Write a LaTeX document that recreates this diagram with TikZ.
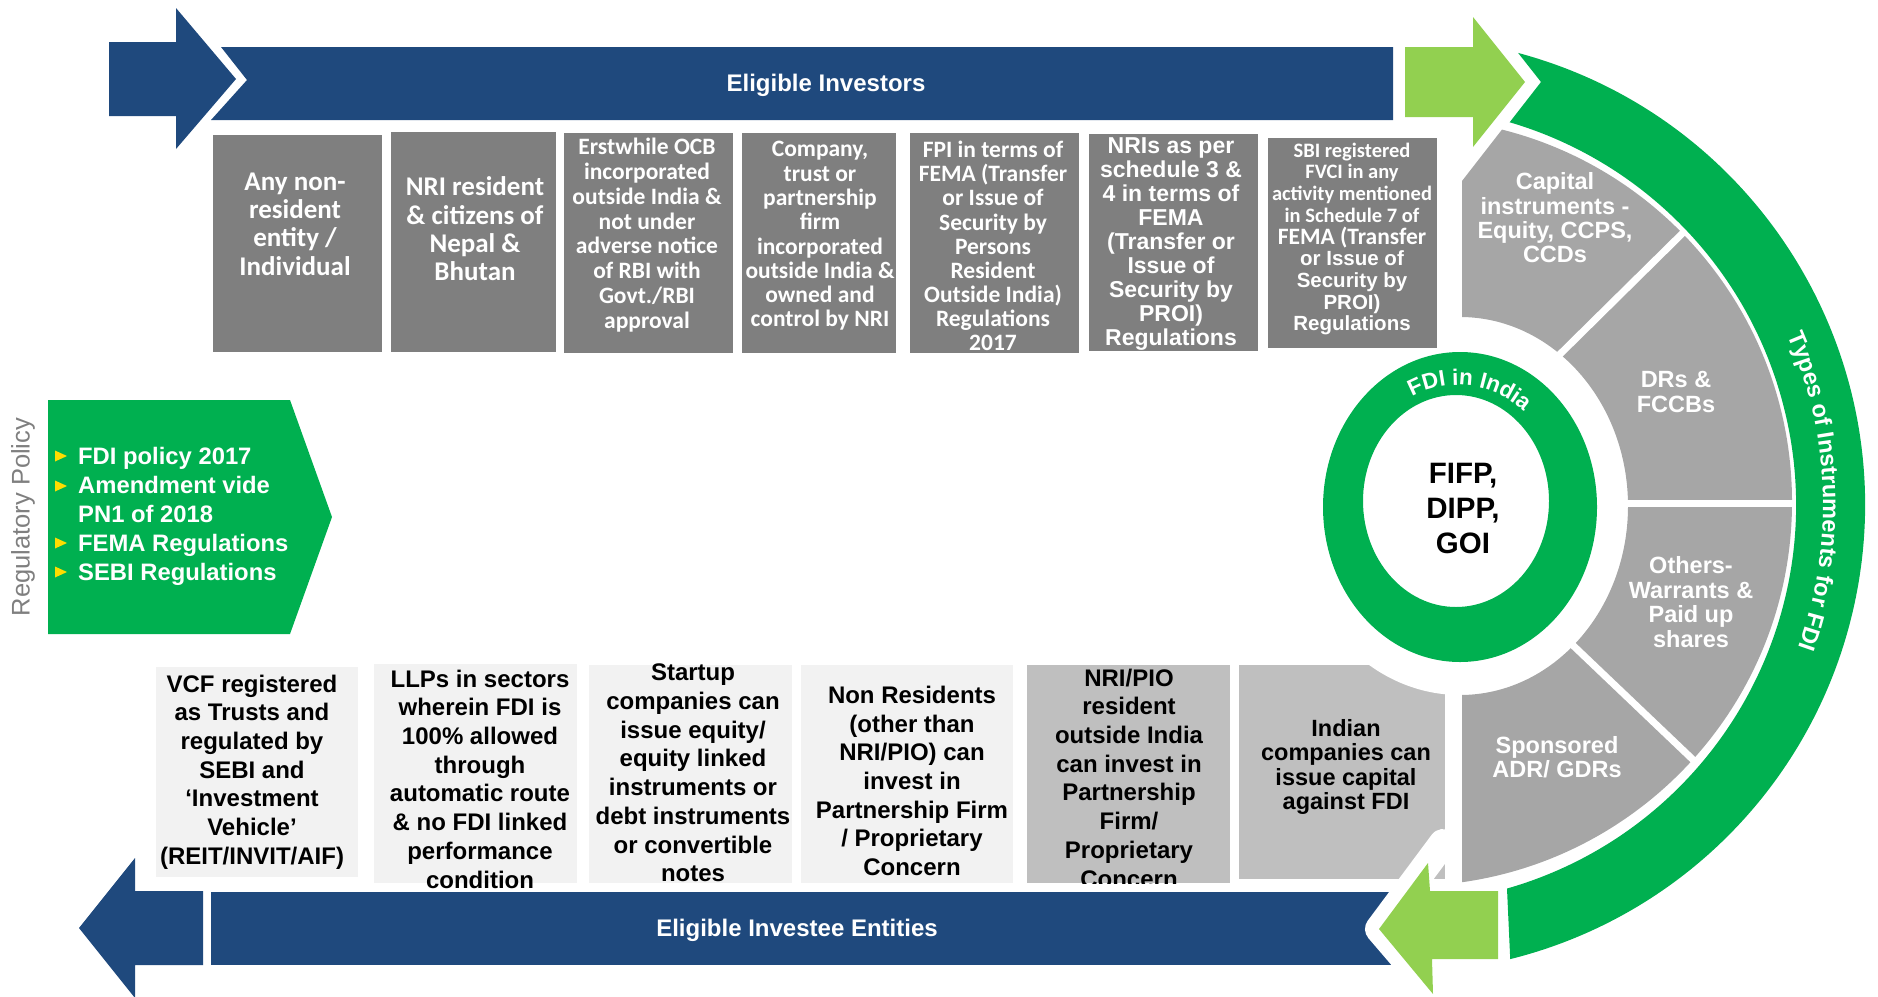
\documentclass[tikz,border=0pt]{standalone}
\usepackage{fontspec}
\usetikzlibrary{calc,decorations.text}
\newfontfamily\arial{Liberation Sans}
\newfontfamily\calib{Carlito}
\newcommand\setfs[2]{\fontsize{#1pt}{#2pt}\selectfont\lineskiplimit=-100pt\relax}

\definecolor{barblue}{RGB}{31,73,125}
\definecolor{dkgreen}{RGB}{0,176,80}
\definecolor{ltgreen}{RGB}{146,208,80}
\definecolor{boxdark}{RGB}{127,127,127}
\definecolor{secgray}{RGB}{166,166,166}
\definecolor{boxlight}{RGB}{242,242,242}
\definecolor{boxmid}{RGB}{191,191,191}
\definecolor{bulletyellow}{RGB}{255,221,0}
\definecolor{labelgray}{RGB}{127,127,127}

\tikzset{
  wtxt/.style={text=white, align=center, inner sep=0pt},
  ktxt/.style={text=black, align=center, inner sep=0pt},
  topbox/.style={fill=boxdark, draw=none, inner sep=0pt},
  botbox/.style={fill=boxlight, draw=none, inner sep=0pt},
  midbox/.style={fill=boxmid, draw=none, inner sep=0pt},
  calbig/.style={font={\calib\bfseries\setfs{27}{28.4}}},
  calmid/.style={font={\calib\bfseries\setfs{23.5}{24.5}}},
  arbot/.style={font={\arial\bfseries\setfs{24}{28.7}}},
  arsec/.style={font={\arial\bfseries\setfs{23.5}{24.3}}},
  divider/.style={white, line width=7pt},
}

\begin{document}
\begin{tikzpicture}[x=1pt,y=-1pt]
\useasboundingbox (0,0) rectangle (1878,996);

% key centres
\coordinate (C) at (1397,505);   % outer green band
\coordinate (G) at (1408,502);   % grey sectors outer rim
\coordinate (H) at (1460,506);   % white hole round the ring
\coordinate (R) at (1460,507);   % FDI ring outer
\coordinate (Ri) at (1456,501);  % FDI ring inner

% ---------------- top: eligible investors ----------------
\fill[barblue] (221,47) -- (1393,47) -- (1393,120) -- (211,120) -- (247,80) -- cycle;
\fill[barblue] (109,42) -- (176,42) -- (176,8) -- (236,79) -- (176,149) -- (176,116) -- (109,116) -- cycle;
\node[wtxt, font={\arial\bfseries\setfs{24}{24}}] (invlabel) at (826,85) {Eligible Investors};
\fill[ltgreen] (1405,47) -- (1473,47) -- (1473,17) -- (1525,82) -- (1473,147) -- (1473,117) -- (1405,117) -- cycle;

\node[topbox, minimum width=169pt, minimum height=217pt] (inv1) at (297.5,243.5) {};
\node[topbox, minimum width=165pt, minimum height=220pt] (inv2) at (473.5,242) {};
\node[topbox, minimum width=169pt, minimum height=220pt] (inv3) at (648.5,243) {};
\node[topbox, minimum width=154pt, minimum height=220pt] (inv4) at (819,243) {};
\node[topbox, minimum width=169pt, minimum height=220pt] (inv5) at (994.5,243) {};
\node[topbox, minimum width=169pt, minimum height=217pt] (inv6) at (1173.5,242.5) {};
\node[topbox, minimum width=169pt, minimum height=210pt] (inv7) at (1352.5,243) {};

\node[wtxt, calbig] (inv1t) at (295,224) {Any non-\\resident\\entity /\\Individual};
\node[wtxt, calbig] (inv2t) at (475,229) {NRI resident\\\& citizens of\\Nepal \&\\Bhutan};
\node[wtxt, calmid, font={\calib\bfseries\setfs{23.5}{24.8}}] (inv3t) at (647,235) {Erstwhile OCB\\incorporated\\outside India \&\\not under\\adverse notice\\of RBI  with\\Govt./RBI\\approval};
\node[wtxt, calmid, font={\calib\bfseries\setfs{23.5}{24.3}}] (inv4t) at (820,236) {Company,\\trust or\\partnership\\firm\\incorporated\\outside India \&\\owned and\\control by NRI};
\begin{scope}
  \clip (910,133) rectangle (1079,353);
  \node[wtxt, font={\calib\bfseries\setfs{23.5}{24.1}}] (inv5t) at (993,246) {FPI in terms of\\FEMA (Transfer\\or Issue of\\Security by\\Persons\\Resident\\Outside India)\\Regulations\\2017};
\end{scope}
\begin{scope}
  \clip (1089,134) rectangle (1258,351);
  \node[wtxt, font={\arial\bfseries\setfs{23}{24}}] (inv6t) at (1171,244) {NRIs as per\\schedule 3 \&\\4 in terms of\\FEMA\\(Transfer or\\Issue of\\Security by\\PROI)\\Regulations};
\end{scope}
\node[wtxt, font={\calib\bfseries\setfs{20.5}{21.7}}] (inv7t) at (1352,239) {SBI registered\\FVCI  in any\\activity mentioned\\in Schedule 7 of\\{\setfs{23.5}{21.7}FEMA (Transfer}\\{\arial\setfs{20.5}{21.7}or Issue of}\\{\arial\setfs{20.5}{21.7}Security by}\\{\arial\setfs{20.5}{21.7}PROI)}\\{\arial\setfs{20.5}{21.7}Regulations}};

% ---------------- instrument sectors ----------------
\begin{scope}
  \clip (1462,181) -- (1504,127) -- (1504,80) -- (1870,80) -- (1870,960) -- (1462,960) -- cycle;
  \fill[secgray, even odd rule] (G) circle[radius=384] (H) ellipse[x radius=168, y radius=189];
\end{scope}
\draw[divider] (1550,364) -- (1700,216);
\draw[divider] (1615,503) -- (1805,503);
\draw[divider] (1560,633) -- (1708,774);

\node[wtxt, arsec] (capital) at (1555,218) {Capital\\instruments -\\Equity, CCPS,\\CCDs};
\node[wtxt, arsec] (drs) at (1676,392) {DRs \&\\FCCBs};
\node[wtxt, arsec, font={\arial\bfseries\setfs{23.5}{24.6}}] (others) at (1691,602) {Others-\\Warrants \&\\Paid up\\shares};
\node[wtxt, arsec] (sponsored) at (1557,757) {Sponsored\\ADR/ GDRs};

% outer green band with its title
\fill[dkgreen] (1541,82) -- ($(C)+(-75:468)$) arc[start angle=-75, end angle=76, radius=468]
  -- ($(C)+(74:399)$) arc[start angle=74, end angle=-73.6, radius=399] -- cycle;
\path[decorate, decoration={text along path, text color=white, text align=center,
  text={|\arial\bfseries\setfs{23.5}{23.5}|Types of Instruments for FDI}}]
  ($(C)+(-42:426)$) arc[start angle=-42, end angle=38, radius=426];

% FDI ring
\fill[dkgreen, even odd rule] (R) ellipse[x radius=137, y radius=155] (Ri) ellipse[x radius=93, y radius=106];
\path[decorate, decoration={text along path, text color=white, text align=center,
  text={|\arial\bfseries\setfs{22.5}{22.5}|FDI in India}}]
  ($(1458,505)+(-174:106 and 120)$) arc[start angle=-174, end angle=6, x radius=106, y radius=120];
\node[ktxt, font={\arial\bfseries\setfs{29.5}{35}}] (govt) at (1463,508) {FIFP,\\DIPP,\\GOI};

% ---------------- bottom: eligible investee entities ----------------
\node[botbox, minimum width=202pt, minimum height=210pt] (ent1) at (257,772) {};
\node[botbox, minimum width=203pt, minimum height=219pt] (ent2) at (475.5,773.5) {};
\node[botbox, minimum width=203pt, minimum height=218pt] (ent3) at (690.5,774) {};
\node[botbox, minimum width=212pt, minimum height=218pt] (ent4) at (907,774) {};
\node[midbox, minimum width=203pt, minimum height=218pt] (ent5) at (1128.5,774) {};
\node[midbox, minimum width=206pt, minimum height=214pt] (ent6) at (1342,772) {};
\begin{scope}
  \clip (1239,665) rectangle (1445,879);
  \fill[white] (H) ellipse[x radius=168, y radius=189];
\end{scope}

\node[ktxt, arbot] (ent1t) at (252,772) {VCF registered\\as Trusts  and\\regulated by\\SEBI and\\‘Investment\\Vehicle’\\(REIT/INVIT/AIF)};
\node[ktxt, arbot] (ent2t) at (480,779) {LLPs in sectors\\wherein FDI is\\100\% allowed\\through\\automatic route\\\& no FDI linked\\performance\\condition};
\node[ktxt, arbot] (ent3t) at (693,773) {Startup\\companies can\\issue equity/\\equity linked\\instruments or\\debt instruments\\or convertible\\notes};
\node[ktxt, arbot] (ent4t) at (912,781) {Non Residents\\(other than\\NRI/PIO) can\\invest in\\Partnership Firm\\/ Proprietary\\Concern};
\begin{scope}
  \clip (1027,665) rectangle (1230,883);
  \node[ktxt, arbot] (ent5t) at (1129,778) {NRI/PIO\\resident\\outside India\\can invest in\\Partnership\\Firm/\\Proprietary\\Concern};
\end{scope}
\node[ktxt, font={\arial\bfseries\setfs{23.5}{24.5}}] (ent6t) at (1346,767) {Indian\\companies can\\issue capital\\against FDI};

\fill[barblue] (211,892) rectangle (1395,965);
\node[wtxt, font={\arial\bfseries\setfs{24}{24}}] (entlabel) at (797,930) {Eligible Investee Entities};
\fill[barblue] (79,928) -- (135,858) -- (135,891) -- (203,891) -- (203,965) -- (135,965) -- (135,998) -- cycle;
\draw[white, line width=28pt, line join=round, line cap=round] (1443,843) -- (1379,929) -- (1433,992);
\fill[ltgreen] (1379,929) -- (1428,863) -- (1430,891) -- (1498,891) -- (1498,959) -- (1432,959) -- (1433,994) -- cycle;

% ---------------- regulatory policy ----------------
\fill[dkgreen] (48,400) -- (290,400) -- (332,517) -- (290,634) -- (48,634) -- cycle;
\node[wtxt, align=left, anchor=west, font={\arial\bfseries\setfs{23.8}{29}}] (policy) at (78,516)
  {FDI policy 2017\\Amendment vide\\PN1 of 2018\\FEMA Regulations\\SEBI Regulations};
\foreach \yy in {456,486,543,572}
  \fill[bulletyellow] (55,\yy-5.5) -- (67,\yy) -- (55,\yy+5.5) -- cycle;
\node[rotate=90, text=labelgray, inner sep=0pt, font={\arial\setfs{25.5}{26}}] (regtitle) at (23,517) {Regulatory Policy};
\end{tikzpicture}
\end{document}
